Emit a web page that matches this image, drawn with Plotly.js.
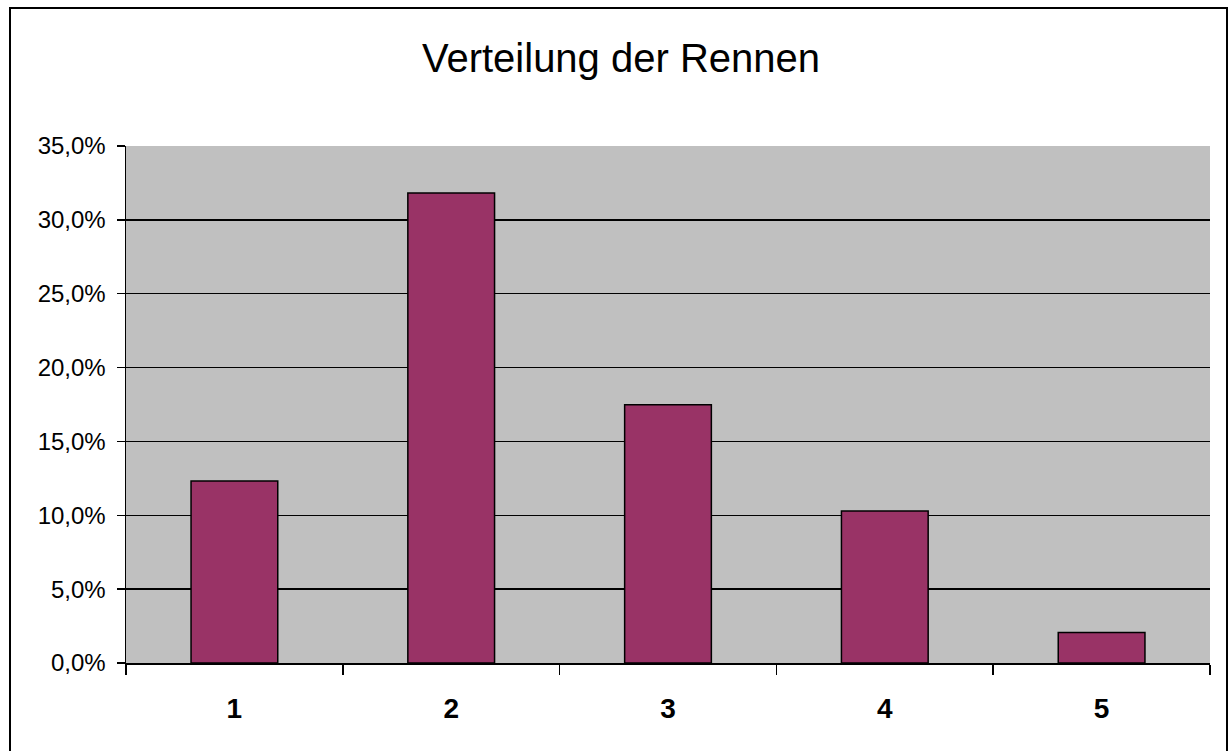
<!DOCTYPE html>
<html>
<head>
<meta charset="utf-8">
<script src="https://cdn.plot.ly/plotly-3.0.1.min.js"></script>
<style>
html,body{margin:0;padding:0;background:#fff;}
#wrap{position:relative;width:1232px;height:751px;}
#chart{width:1232px;height:751px;}
#frame{position:absolute;left:9px;top:7px;width:1219px;height:760px;border:2px solid #000;pointer-events:none;box-sizing:border-box;}
</style>
</head>
<body>
<div id="wrap"><div id="chart"></div><div id="frame"></div></div>
<script>
const categories = ['1', '2', '3', '4', '5'];
const shares = [0.1232, 0.3182, 0.1749, 0.1029, 0.0206];
const yTickVals = [0, 0.05, 0.10, 0.15, 0.20, 0.25, 0.30, 0.35];
const chartTitle = 'Verteilung der Rennen';

const trace = {
  type: 'bar',
  x: categories,
  y: shares,
  marker: {color: '#993366', line: {color: '#000000', width: 1.5}},
  hoverinfo: 'x+y'
};

const layout = {
  width: 1232,
  height: 751,
  margin: {l: 126, r: 22, t: 146, b: 88},
  paper_bgcolor: '#ffffff',
  plot_bgcolor: '#C0C0C0',
  separators: ', ',
  showlegend: false,
  bargap: 0.6,
  font: {family: 'Liberation Sans, Arial, sans-serif', color: '#000'},
  title: {
    text: chartTitle,
    font: {size: 40, family: 'Liberation Sans, Arial, sans-serif', color: '#000'},
    x: 621/1232, xref: 'container', xanchor: 'center',
    y: 1 - 58/751, yref: 'container', yanchor: 'middle'
  },
  xaxis: {
    type: 'category',
    tickson: 'boundaries',
    ticks: 'outside',
    ticklen: 10,
    tickwidth: 1.5,
    tickcolor: '#000',
    ticklabelstandoff: 20,
    showline: true,
    linecolor: '#000',
    linewidth: 1.5,
    showgrid: false,
    zeroline: false,
    tickfont: {size: 28, family: 'Liberation Sans, Arial, sans-serif', color: '#000', weight: 'bold'},
    fixedrange: true
  },
  yaxis: {
    range: [0, 0.35],
    tickvals: yTickVals,
    tickformat: '.1%',
    ticks: 'outside',
    ticklen: 8,
    tickwidth: 1.5,
    tickcolor: '#000',
    ticklabelstandoff: 6,
    showline: true,
    linecolor: '#000',
    linewidth: 1.5,
    showgrid: true,
    gridcolor: '#000',
    gridwidth: 1.5,
    zeroline: false,
    tickfont: {size: 24, family: 'Liberation Sans, Arial, sans-serif', color: '#000'},
    fixedrange: true
  }
};

Plotly.newPlot('chart', [trace], layout, {displayModeBar: false, staticPlot: true});
</script>
</body>
</html>
